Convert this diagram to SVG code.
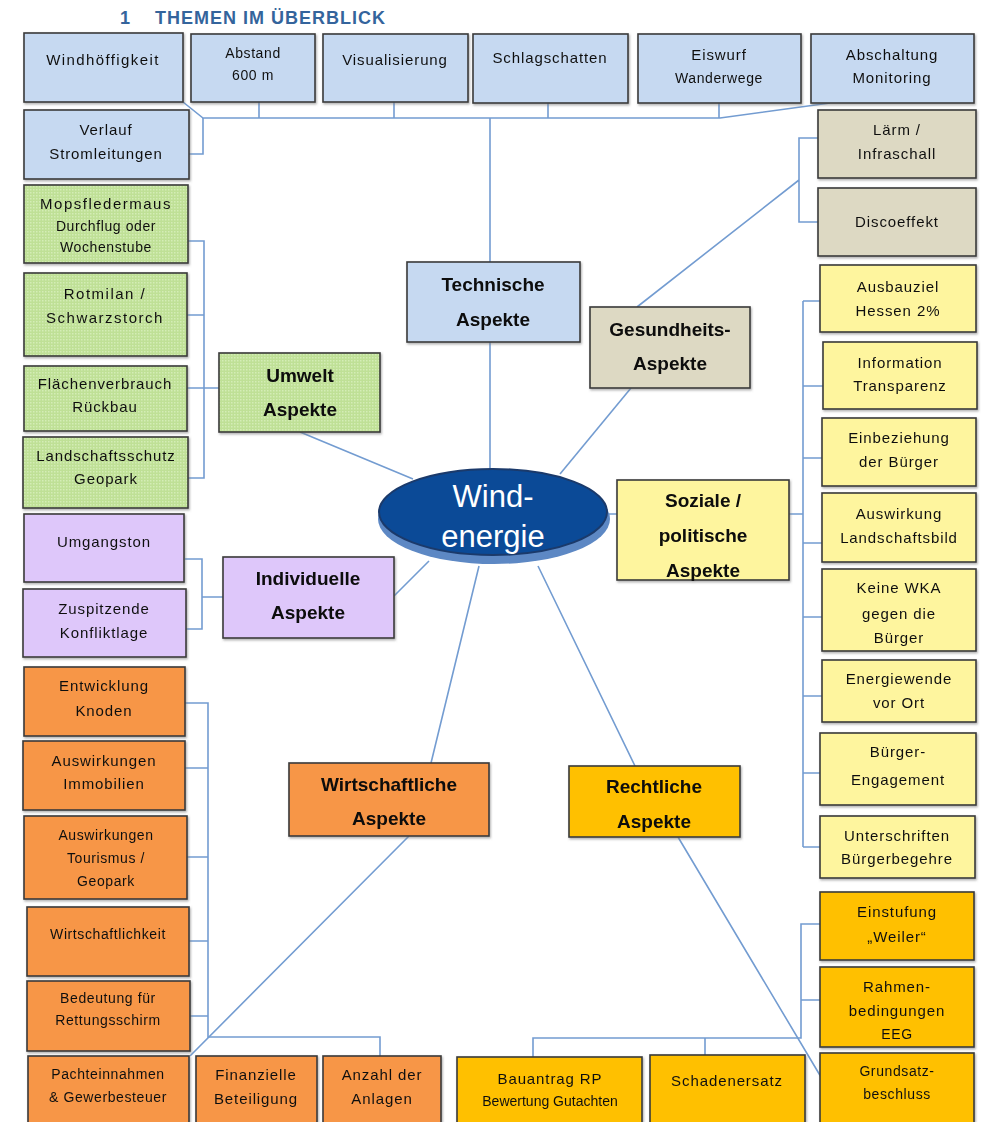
<svg xmlns="http://www.w3.org/2000/svg" width="982" height="1122" viewBox="0 0 982 1122">
<style>
.b{stroke:#3a3a3a;stroke-width:1.6}
.bl{fill:#C6D9F1}.tn{fill:#DDD9C3}.gr{fill:url(#dots)}.pu{fill:#DEC7FA}.or{fill:#F79646}.ye{fill:#FEF59E}.go{fill:#FFC000}
text{font-family:"Liberation Sans",Arial,sans-serif;font-size:15px;fill:#111;text-anchor:middle;letter-spacing:0.9px}
.s{font-size:14px;letter-spacing:0.6px}
.h{font-weight:bold;font-size:19px;letter-spacing:0;fill:#0a0a0a}
.c{fill:none;stroke:#739CD1;stroke-width:1.6}
.ti{font-weight:bold;font-size:18px;fill:#34649C;text-anchor:start;letter-spacing:1px}
</style>
<defs>
<pattern id="dots" width="3" height="3" patternUnits="userSpaceOnUse">
<rect width="3" height="3" fill="#BFE096"/>
<rect width="1.5" height="1.5" fill="#D4EDB6"/>
</pattern>
<filter id="sh" x="-5%" y="-5%" width="110%" height="115%">
<feDropShadow dx="1" dy="1.5" stdDeviation="0.8" flood-color="#777" flood-opacity="0.6"/>
</filter>
</defs>
<rect width="982" height="1122" fill="#fff"/>
<text class="ti" x="120" y="24">1</text>
<text class="ti" x="155" y="24">THEMEN IM ÜBERBLICK</text>

<g id="connectors">
<path class="c" d="M183,102 L203,118 H720 L830,103"/>
<path class="c" d="M189,154 H203 V118"/>
<path class="c" d="M259,102 V118 M394,102 V118 M548,103 V118 M719,103 V118"/>
<path class="c" d="M490,118 V262 M490,342 V470"/>
<path class="c" d="M818,138 H799 V222 H818 M799,180 L637,307"/>
<path class="c" d="M631,388 L560,474"/>
<path class="c" d="M188,241 H204 V478 H188 M187,315 H204 M187,388 H219 M300,432 L413,479"/>
<path class="c" d="M185,559 H202 V629 H186 M202,597 H223 M394,596 L429,561"/>
<path class="c" d="M605,514 H617 M789,514 H803 M803,301 V847"/>
<path class="c" d="M803,301 H820 M803,386 H823 M803,458 H822 M803,543 H822 M803,617 H822 M803,696 H822 M803,773 H820 M803,847 H820"/>
<path class="c" d="M431,763 L479,566 M409,836 L190,1056"/>
<path class="c" d="M185,703 H208 V1037 H380 V1056 M185,768 H208 M187,857 H208 M189,941 H208 M190,1016 H208"/>
<path class="c" d="M538,566 L635,766 M678,837 L821,1077"/>
<path class="c" d="M820,924 H801 V1038 H533 V1057 M801,1000 H820 M705,1038 V1055"/>
</g>

<g id="top-windhoeffigkeit" filter="url(#sh)"><rect class="b bl" x="24" y="33" width="159" height="69"/><text x="103" y="65" style="letter-spacing:1.4px">Windhöffigkeit</text></g>
<g id="top-abstand" filter="url(#sh)"><rect class="b bl" x="191" y="34" width="124" height="68"/><text class="s" x="253" y="58">Abstand</text><text class="s" x="253" y="80">600 m</text></g>
<g id="top-visualisierung" filter="url(#sh)"><rect class="b bl" x="323" y="34" width="145" height="68"/><text x="395" y="65">Visualisierung</text></g>
<g id="top-schlagschatten" filter="url(#sh)"><rect class="b bl" x="473" y="34" width="155" height="69"/><text x="550" y="63">Schlagschatten</text></g>
<g id="top-eiswurf" filter="url(#sh)"><rect class="b bl" x="638" y="34" width="163" height="69"/><text x="719" y="60">Eiswurf</text><text class="s" x="719" y="83">Wanderwege</text></g>
<g id="top-abschaltung" filter="url(#sh)"><rect class="b bl" x="811" y="34" width="163" height="69"/><text x="892" y="60">Abschaltung</text><text x="892" y="83">Monitoring</text></g>
<g id="top-verlauf" filter="url(#sh)"><rect class="b bl" x="24" y="110" width="165" height="69"/><text x="106" y="135">Verlauf</text><text x="106" y="159">Stromleitungen</text></g>

<g id="ges-laerm" filter="url(#sh)"><rect class="b tn" x="818" y="110" width="158" height="68"/><text x="897" y="135">Lärm /</text><text x="897" y="159">Infraschall</text></g>
<g id="ges-disco" filter="url(#sh)"><rect class="b tn" x="818" y="188" width="158" height="68"/><text x="897" y="227">Discoeffekt</text></g>

<g id="um-mops" filter="url(#sh)"><rect class="b gr" x="24" y="185" width="164" height="78"/><text x="106" y="209" style="letter-spacing:1.5px">Mopsfledermaus</text><text class="s" x="106" y="231">Durchflug oder</text><text class="s" x="106" y="252">Wochenstube</text></g>
<g id="um-rotmilan" filter="url(#sh)"><rect class="b gr" x="24" y="273" width="163" height="83"/><text x="105" y="299" style="letter-spacing:1.5px">Rotmilan /</text><text x="105" y="323" style="letter-spacing:1.5px">Schwarzstorch</text></g>
<g id="um-flaechen" filter="url(#sh)"><rect class="b gr" x="24" y="366" width="163" height="65"/><text x="105" y="389">Flächenverbrauch</text><text x="105" y="412">Rückbau</text></g>
<g id="um-landschaft" filter="url(#sh)"><rect class="b gr" x="23" y="437" width="165" height="71"/><text x="106" y="461">Landschaftsschutz</text><text x="106" y="484">Geopark</text></g>
<g id="umwelt" filter="url(#sh)"><rect class="b gr" x="219" y="353" width="161" height="79"/><text class="h" x="300" y="382">Umwelt</text><text class="h" x="300" y="416">Aspekte</text></g>

<g id="technische" filter="url(#sh)"><rect class="b bl" x="407" y="262" width="173" height="80"/><text class="h" x="493" y="291">Technische</text><text class="h" x="493" y="326">Aspekte</text></g>
<g id="gesundheit" filter="url(#sh)"><rect class="b tn" x="590" y="307" width="160" height="81"/><text class="h" x="670" y="336">Gesundheits-</text><text class="h" x="670" y="370">Aspekte</text></g>

<g id="windenergie">
<ellipse cx="494" cy="519" rx="116" ry="45" fill="#5D88C4"/>
<ellipse cx="493" cy="512" rx="114" ry="43" fill="#0B4A97" stroke="#1B3A6B" stroke-width="2"/>
<text x="493" y="507" style="font-size:31px;fill:#fff;letter-spacing:0">Wind-</text>
<text x="493" y="547" style="font-size:31px;fill:#fff;letter-spacing:0">energie</text>
</g>

<g id="soziale" filter="url(#sh)"><rect class="b ye" x="617" y="480" width="172" height="100"/><text class="h" x="703" y="507">Soziale /</text><text class="h" x="703" y="542">politische</text><text class="h" x="703" y="577">Aspekte</text></g>

<g id="so-ausbau" filter="url(#sh)"><rect class="b ye" x="820" y="265" width="156" height="67"/><text x="898" y="292">Ausbauziel</text><text x="898" y="316">Hessen 2%</text></g>
<g id="so-info" filter="url(#sh)"><rect class="b ye" x="823" y="342" width="154" height="67"/><text x="900" y="368">Information</text><text x="900" y="391">Transparenz</text></g>
<g id="so-einbez" filter="url(#sh)"><rect class="b ye" x="822" y="418" width="154" height="68"/><text x="899" y="443">Einbeziehung</text><text x="899" y="467">der Bürger</text></g>
<g id="so-auswirk" filter="url(#sh)"><rect class="b ye" x="822" y="493" width="154" height="69"/><text x="899" y="519">Auswirkung</text><text x="899" y="543">Landschaftsbild</text></g>
<g id="so-keine" filter="url(#sh)"><rect class="b ye" x="822" y="569" width="154" height="82"/><text x="899" y="593">Keine WKA</text><text x="899" y="619">gegen die</text><text x="899" y="643">Bürger</text></g>
<g id="so-energiewende" filter="url(#sh)"><rect class="b ye" x="822" y="660" width="154" height="62"/><text x="899" y="684">Energiewende</text><text x="899" y="708">vor Ort</text></g>
<g id="so-engagement" filter="url(#sh)"><rect class="b ye" x="820" y="733" width="156" height="72"/><text x="898" y="757">Bürger-</text><text x="898" y="785">Engagement</text></g>
<g id="so-unterschriften" filter="url(#sh)"><rect class="b ye" x="820" y="816" width="155" height="62"/><text x="897" y="841">Unterschriften</text><text x="897" y="864">Bürgerbegehre</text></g>

<g id="in-umgangston" filter="url(#sh)"><rect class="b pu" x="24" y="514" width="160" height="68"/><text x="104" y="547">Umgangston</text></g>
<g id="in-zuspitzende" filter="url(#sh)"><rect class="b pu" x="23" y="589" width="163" height="68"/><text x="104" y="614">Zuspitzende</text><text x="104" y="638">Konfliktlage</text></g>
<g id="individuelle" filter="url(#sh)"><rect class="b pu" x="223" y="557" width="171" height="81"/><text class="h" x="308" y="585">Individuelle</text><text class="h" x="308" y="619">Aspekte</text></g>

<g id="wi-entwicklung" filter="url(#sh)"><rect class="b or" x="24" y="667" width="161" height="69"/><text x="104" y="691">Entwicklung</text><text x="104" y="716">Knoden</text></g>
<g id="wi-immobilien" filter="url(#sh)"><rect class="b or" x="23" y="741" width="162" height="69"/><text x="104" y="766">Auswirkungen</text><text x="104" y="789">Immobilien</text></g>
<g id="wi-tourismus" filter="url(#sh)"><rect class="b or" x="24" y="816" width="163" height="83"/><text class="s" x="106" y="840">Auswirkungen</text><text class="s" x="106" y="863">Tourismus /</text><text class="s" x="106" y="886">Geopark</text></g>
<g id="wi-wirtschaftlichkeit" filter="url(#sh)"><rect class="b or" x="27" y="907" width="162" height="69"/><text class="s" x="108" y="939">Wirtschaftlichkeit</text></g>
<g id="wi-rettung" filter="url(#sh)"><rect class="b or" x="27" y="981" width="163" height="70"/><text class="s" x="108" y="1003">Bedeutung für</text><text class="s" x="108" y="1025">Rettungsschirm</text></g>
<g id="wi-pacht" filter="url(#sh)"><rect class="b or" x="28" y="1056" width="161" height="70"/><text class="s" x="108" y="1079">Pachteinnahmen</text><text class="s" x="108" y="1102">&amp; Gewerbesteuer</text></g>
<g id="wi-finanzielle" filter="url(#sh)"><rect class="b or" x="196" y="1056" width="121" height="70"/><text x="256" y="1080">Finanzielle</text><text x="256" y="1104">Beteiligung</text></g>
<g id="wi-anzahl" filter="url(#sh)"><rect class="b or" x="323" y="1056" width="118" height="70"/><text x="382" y="1080">Anzahl der</text><text x="382" y="1104">Anlagen</text></g>
<g id="wirtschaftliche" filter="url(#sh)"><rect class="b or" x="289" y="763" width="200" height="73"/><text class="h" x="389" y="791">Wirtschaftliche</text><text class="h" x="389" y="825">Aspekte</text></g>

<g id="rechtliche" filter="url(#sh)"><rect class="b go" x="569" y="766" width="171" height="71"/><text class="h" x="654" y="793">Rechtliche</text><text class="h" x="654" y="828">Aspekte</text></g>
<g id="re-einstufung" filter="url(#sh)"><rect class="b go" x="820" y="892" width="154" height="68"/><text x="897" y="917">Einstufung</text><text x="897" y="942">„Weiler“</text></g>
<g id="re-rahmen" filter="url(#sh)"><rect class="b go" x="820" y="967" width="154" height="80"/><text x="897" y="992">Rahmen-</text><text x="897" y="1016">bedingungen</text><text class="s" x="897" y="1039">EEG</text></g>
<g id="re-grundsatz" filter="url(#sh)"><rect class="b go" x="820" y="1053" width="154" height="73"/><text class="s" x="897" y="1076">Grundsatz-</text><text class="s" x="897" y="1099">beschluss</text></g>
<g id="re-bauantrag" filter="url(#sh)"><rect class="b go" x="457" y="1057" width="185" height="69"/><text x="550" y="1084">Bauantrag RP</text><text class="s" x="550" y="1106" style="letter-spacing:0">Bewertung Gutachten</text></g>
<g id="re-schadenersatz" filter="url(#sh)"><rect class="b go" x="650" y="1055" width="155" height="71"/><text x="727" y="1086">Schadenersatz</text></g>
</svg>
